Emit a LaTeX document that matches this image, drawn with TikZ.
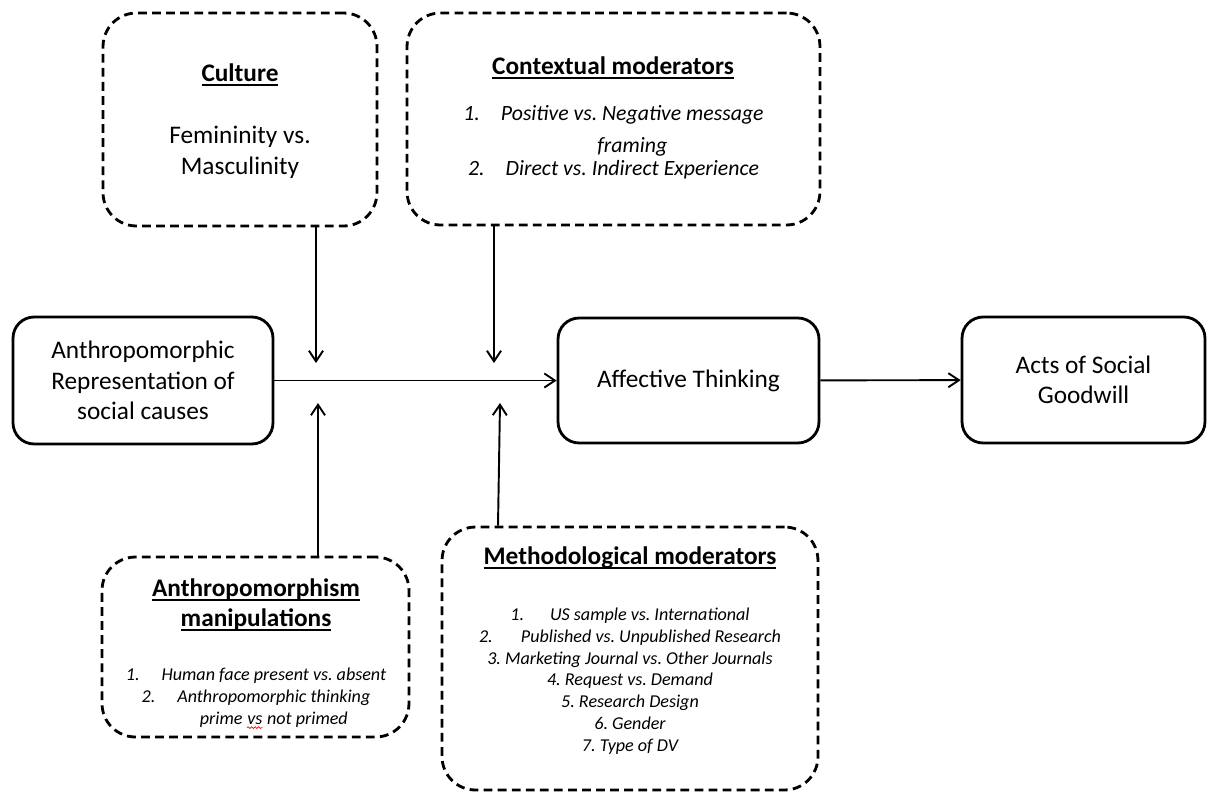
\documentclass[tikz,border=0pt]{standalone}
\usepackage{fontspec}
\setmainfont{Carlito}
\usetikzlibrary{arrows.meta,decorations.pathmorphing}

\newcommand{\boxfont}{\fontsize{14.4}{17.3}\selectfont\frenchspacing}
\newcommand{\headfont}{\fontsize{14.4}{17.1}\selectfont\frenchspacing}
\newcommand{\ctxfont}{\fontsize{12.4}{13.1}\selectfont\itshape\frenchspacing}
\newcommand{\itemfont}{\fontsize{10.3}{12.4}\selectfont\itshape\frenchspacing}
\newcommand{\ulbold}[1]{\setbox0\hbox{\bfseries #1}\rlap{\rule[-2.2pt]{\wd0}{1pt}}\box0}
\newcommand{\spellvs}{\tikz[baseline=(sv.base)]{\node[inner sep=0pt] (sv) {vs};
  \draw[red,line width=0.4pt,decorate,decoration={snake,amplitude=0.5pt,segment length=2pt}]
    ([yshift=-1.6pt]sv.south west) -- ([yshift=-1.6pt]sv.south east);}}

\begin{document}
\begin{tikzpicture}[x=0.02cm,y=-0.02cm,
    modbox/.style={draw,line width=1.6pt,dash pattern=on 5pt off 3pt,rounded corners=19pt,inner sep=0pt},
    mainbox/.style={draw,line width=1.6pt,rounded corners=12pt,align=center,font=\boxfont},
    link/.style={-{Straight Barb[length=6pt,width=8pt]},line width=1.1pt}]
  \useasboundingbox (0,0) rectangle (1207,792);

  % moderator boxes
  \node (cult) at (240,119.5) [modbox,minimum width=5.48cm,minimum height=4.26cm] {};
  \node (ctx) at (613.5,119) [modbox,minimum width=8.26cm,minimum height=4.24cm] {};
  \node (man) at (255.5,647) [modbox,minimum width=6.14cm,minimum height=3.6cm] {};
  \node (meth) at (630,658.5) [modbox,minimum width=7.52cm,minimum height=5.26cm] {};

  \node (cultHead) at (240,75) [inner sep=0pt,font=\headfont] {\ulbold{Culture}};
  \node (cultText) at (240,152.5) [inner sep=0pt,align=center,font=\boxfont] {Femininity vs.\\Masculinity};

  \node (ctxHead) at (613,68) [inner sep=0pt,font=\headfont] {\ulbold{Contextual moderators}};
  \node (ctxList) at (613.5,142.5) [inner sep=0pt,align=center,font=\ctxfont]
    {1.\hspace{12pt}Positive vs. Negative message\\[5.1pt]
     \hphantom{1.\hspace{12pt}}framing\\
     2.\hspace{12pt}Direct vs. Indirect Experience};

  \node (manHead) at (256,605) [inner sep=0pt,align=center,font=\headfont]
    {\ulbold{Anthropomorphism}\\\ulbold{manipulations}};
  \node (manList) at (256,698.5) [inner sep=0pt,align=center,font=\itemfont]
    {1.\hspace{12.5pt}Human face present vs. absent\\
     2.\hspace{12.5pt}Anthropomorphic thinking\\
     \hphantom{2.\hspace{12.5pt}}prime \spellvs{} not primed};

  \node (methHead) at (630,558) [inner sep=0pt,font=\headfont] {\ulbold{Methodological moderators}};
  \node (methList) at (630,681) [inner sep=0pt,align=center,font=\itemfont]
    {1.\hspace{14.8pt}US sample vs. International\\
     2.\hspace{16pt}Published vs. Unpublished Research\\
     3. Marketing Journal vs. Other Journals\\
     4. Request vs. Demand\\
     5. Research Design\\
     6. Gender\\
     7. Type of DV};

  % main chain
  \node (anth) at (143,380.5) [mainbox,minimum width=5.2cm,minimum height=2.54cm]
    {Anthropomorphic\\Representation of\\social causes};
  \node (aff) at (688.5,380.5) [mainbox,minimum width=5.22cm,minimum height=2.5cm] {Affective Thinking};
  \node (acts) at (1083.5,380) [mainbox,minimum width=4.86cm,minimum height=2.52cm] {Acts of Social\\Goodwill};

  \draw[link] (anth) -- (aff);
  \draw[link] (aff) -- (acts);

  % moderating arrows
  \coordinate (cultTip) at (316,363);
  \coordinate (ctxTip) at (494,363);
  \coordinate (manTip) at (318,403);
  \coordinate (methTip) at (500,403);
  \coordinate (methFoot) at (498,527);
  \draw[link] (cultTip |- cult.south) -- (cultTip);
  \draw[link] (ctxTip |- ctx.south) -- (ctxTip);
  \draw[link] (manTip |- man.north) -- (manTip);
  \draw[link] (methFoot |- meth.north) -- (methTip);
\end{tikzpicture}
\end{document}
